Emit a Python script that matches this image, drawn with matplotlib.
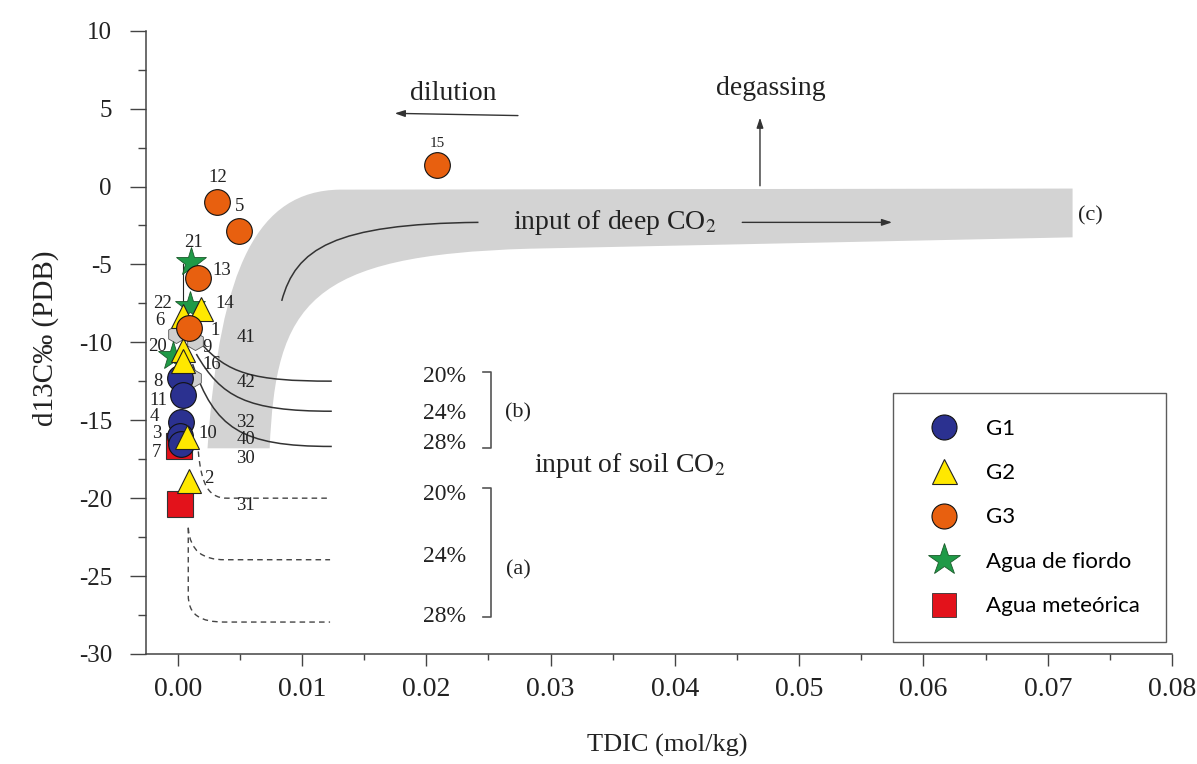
import numpy as np
import matplotlib
matplotlib.use("Agg")
import matplotlib.pyplot as plt
from matplotlib.path import Path
from matplotlib.patches import PathPatch
from matplotlib.lines import Line2D

SERIF = ['Liberation Serif', 'DejaVu Serif']
plt.rcParams['font.family'] = SERIF
plt.rcParams['mathtext.fontset'] = 'stix'

# ---------------- data ----------------
g1_x = [0.00019, 0.00045, 0.0003, 0.0002, 0.0003]
g1_y = [-12.3, -13.4, -15.1, -16.0, -16.5]

g2_x = [0.00187, 0.00045, 0.00045, 0.00045, 0.00072, 0.00093]
g2_y = [-7.85, -8.3, -10.5, -11.2, -16.1, -18.9]

g3_x = [0.0209, 0.00316, 0.00496, 0.00166, 0.00091]
g3_y = [1.35, -1.0, -2.83, -5.84, -9.1]

fiordo_x = [0.00105, 0.0010, -0.0004]
fiordo_y = [-4.87, -7.66, -10.9]

meteor_x = [0.0001, 0.00015]
meteor_y = [-16.65, -20.4]

other_x = [-0.0001, 0.0014, 0.00126]
other_y = [-9.49, -9.9, -12.3]

# sample number labels
lab_text = ["15", "12", "5", "21", "13", "22", "14", "6", "1", "41", "20", "9", "16",
            "8", "42", "11", "4", "32", "3", "10", "40", "7", "30", "2", "31"]
lab_x = [0.02086, 0.00319, 0.00496, 0.00126, 0.00354, -0.00124, 0.00380, -0.00142, 0.00300,
         0.00547, -0.00164, 0.00234, 0.00273, -0.00156, 0.00547, -0.00156, -0.00190, 0.00547,
         -0.00169, 0.00246, 0.00547, -0.00175, 0.00547, 0.00252, 0.00547]
lab_y = [2.77, 0.56, -1.27, -3.59, -5.41, -7.52, -7.52, -8.58, -9.21, -9.66, -10.24, -10.3,
         -11.42, -12.49, -12.6, -13.74, -14.75, -15.13, -15.82, -15.82, -16.25, -17.1, -17.43,
         -18.72, -20.48]

# soil-CO2 percentage labels
pct_text = ["20%", "24%", "28%", "20%", "24%", "28%"]
pct_y = [-12.2, -14.54, -16.48, -19.76, -23.75, -27.62]

xticks = [0.00, 0.01, 0.02, 0.03, 0.04, 0.05, 0.06, 0.07, 0.08]
yticks = [-30, -25, -20, -15, -10, -5, 0, 5, 10]

# colours
c_blue = '#2B3190'
c_yel = '#FFE800'
c_orn = '#E8600F'
c_grn = '#1F9A47'
c_red = '#E3121B'
c_band = '#D3D3D3'
c_line = '#333333'

# ---------------- figure ----------------
W, H = 1197, 764
fig = plt.figure(figsize=(W / 100, H / 100), dpi=100)
ax = fig.add_axes([146 / W, 1 - 654 / H, 1026 / W, 623.3 / H])
ax.set_xlim(-0.00255, 0.08)
ax.set_ylim(-30, 10)

# grey band (input of deep CO2)
band_v = [(0.0024, -16.8),
          (0.0034, -5.0), (0.0065, -0.3), (0.013, -0.2),
          (0.072, -0.13),
          (0.072, -3.26),
          (0.0283, -3.99),
          (0.0105, -4.4), (0.0079, -7.5), (0.0074, -16.8),
          (0.0024, -16.8)]
band_c = [Path.MOVETO, Path.CURVE4, Path.CURVE4, Path.CURVE4, Path.LINETO, Path.LINETO,
          Path.LINETO, Path.CURVE4, Path.CURVE4, Path.CURVE4, Path.CLOSEPOLY]
ax.add_patch(PathPatch(Path(band_v, band_c), facecolor=c_band, edgecolor='none', zorder=1))

# curve inside band
inner_v = [(0.00837, -7.34), (0.0095, -4.0), (0.0125, -2.4), (0.0242, -2.3)]
ax.add_patch(PathPatch(Path(inner_v, [Path.MOVETO, Path.CURVE4, Path.CURVE4, Path.CURVE4]),
                       facecolor='none', edgecolor=c_line, lw=1.1, zorder=2))

# soil CO2 mixing curves (b) solid
solid_curves = [
    [(0.0018, -10.0), (0.0040, -12.0), (0.0060, -12.49), (0.0124, -12.49)],
    [(0.0015, -10.75), (0.0035, -13.5), (0.0055, -14.42), (0.0124, -14.42)],
    [(0.0012, -11.4), (0.0030, -15.5), (0.0050, -16.68), (0.0124, -16.68)],
]
for cv in solid_curves:
    ax.add_patch(PathPatch(Path(cv, [Path.MOVETO, Path.CURVE4, Path.CURVE4, Path.CURVE4]),
                           facecolor='none', edgecolor=c_line, lw=1.1, zorder=2))

# (a) dashed curves
dashed_curves = [
    ([(0.00166, -17.0), (0.0019, -19.3), (0.0026, -20.0), (0.0040, -20.0), (0.01226, -20.0)],
     [Path.MOVETO, Path.CURVE4, Path.CURVE4, Path.CURVE4, Path.LINETO]),
    ([(0.00085, -21.9), (0.0010, -23.4), (0.0020, -23.95), (0.0038, -23.95), (0.01226, -23.95)],
     [Path.MOVETO, Path.CURVE4, Path.CURVE4, Path.CURVE4, Path.LINETO]),
    ([(0.00085, -21.9), (0.00085, -26.2), (0.00085, -27.5), (0.0018, -27.95), (0.0038, -27.95),
      (0.01226, -27.95)],
     [Path.MOVETO, Path.LINETO, Path.CURVE4, Path.CURVE4, Path.CURVE4, Path.LINETO]),
]
for v, c in dashed_curves:
    ax.add_patch(PathPatch(Path(v, c), facecolor='none', edgecolor='#444444', lw=1.0,
                           linestyle=(0, (4, 3)), zorder=2))

# thin connector
ax.plot([0.00045, 0.00045], [-4.96, -7.66], color='#222222', lw=0.8, zorder=3)

# markers
ms_c = 18.5
ax.plot(other_x, other_y, linestyle='none', marker='h', ms=13, mfc='#CFCFCF', mec='#555555',
        mew=0.6, zorder=3)
ax.plot(meteor_x, meteor_y, linestyle='none', marker='s', ms=19, mfc=c_red, mec='#333333',
        mew=0.8, zorder=4)
ax.plot(fiordo_x, fiordo_y, linestyle='none', marker='*', ms=22, mfc=c_grn, mec='#1a5a2a',
        mew=0.6, zorder=5)
ax.plot(g1_x, g1_y, linestyle='none', marker='o', ms=ms_c, mfc=c_blue, mec='#111111',
        mew=0.8, zorder=6)
ax.plot(g2_x, g2_y, linestyle='none', marker='^', ms=17, mfc=c_yel, mec='#222222',
        mew=0.8, zorder=7)
ax.plot(g3_x, g3_y, linestyle='none', marker='o', ms=ms_c, mfc=c_orn, mec='#111111',
        mew=0.8, zorder=8)

# sample labels
for t, x, y in zip(lab_text, lab_x, lab_y):
    ax.text(x, y, t, fontsize=11 if t == "15" else 13.5, ha='center', va='center',
            color='#222222', zorder=9, family=SERIF)

# brackets
bx, btick = 0.02518, 0.02454
for top, bot in [(-11.89, -16.79), (-19.36, -27.62)]:
    ax.plot([btick, bx, bx, btick], [top, top, bot, bot], color='#555555', lw=1.2, zorder=3)
for t, y in zip(pct_text, pct_y):
    ax.text(0.0215, y, t, fontsize=17, ha='center', va='center', color='#222222', family=SERIF)
ax.text(0.02738, -14.5, "(b)", fontsize=16, ha='center', va='center', color='#222222',
        family=SERIF)
ax.text(0.02738, -24.6, "(a)", fontsize=16, ha='center', va='center', color='#222222',
        family=SERIF)
ax.text(0.0364, -17.9, "input of soil CO$_2$", fontsize=20, ha='center', va='center',
        color='#222222', family=SERIF)

# band annotations
ax.text(0.0352, -2.3, "input of deep CO$_2$", fontsize=20, ha='center', va='center',
        color='#222222', zorder=9, family=SERIF)
ax.annotate("", xy=(0.0577, -2.3), xytext=(0.0452, -2.3),
            arrowprops=dict(arrowstyle='-|>,head_length=0.6,head_width=0.2', color=c_line, lw=1.0))
ax.text(0.0724, -1.9, "(c)", fontsize=16, ha='left', va='center', color='#222222', family=SERIF)

ax.text(0.0222, 6.0, "dilution", fontsize=20, ha='center', va='center', color='#222222',
        family=SERIF)
ax.annotate("", xy=(0.01724, 4.7), xytext=(0.0276, 4.55),
            arrowprops=dict(arrowstyle='-|>,head_length=0.6,head_width=0.2', color=c_line, lw=1.0))
ax.text(0.0477, 6.3, "degassing", fontsize=20, ha='center', va='center', color='#222222',
        family=SERIF)
ax.annotate("", xy=(0.04685, 4.6), xytext=(0.04685, -0.13),
            arrowprops=dict(arrowstyle='-|>,head_length=0.6,head_width=0.2', color=c_line, lw=1.0))

# axes styling
for s in ['top', 'right']:
    ax.spines[s].set_visible(False)
for s in ['left', 'bottom']:
    ax.spines[s].set_color('#444444')
    ax.spines[s].set_linewidth(1.1)
ax.set_xticks(xticks)
ax.set_xticklabels([f"{v:.2f}" for v in xticks])
ax.set_xticks(np.array(xticks[:-1]) + 0.005, minor=True)
ax.set_yticks(yticks)
ax.set_yticklabels([str(v) for v in yticks])
ax.set_yticks(np.array(yticks[:-1]) + 2.5, minor=True)
ax.tick_params(axis='x', which='major', direction='out', length=8.6, width=1.0, pad=8,
               labelsize=20, colors='#444444', labelcolor='#222222',
               labelfontfamily='Liberation Serif')
ax.tick_params(axis='x', which='minor', direction='out', length=4.3, width=1.0, colors='#444444')
ax.tick_params(axis='y', which='major', direction='out', length=11.5, width=1.0, pad=13,
               labelsize=18, colors='#444444', labelcolor='#222222',
               labelfontfamily='Liberation Serif')
ax.tick_params(axis='y', which='minor', direction='out', length=5.8, width=1.0, colors='#444444')

ax.set_xlabel("TDIC (mol/kg)", fontsize=19, color='#222222', family=SERIF)
ax.xaxis.label.set_va('center')
ax.xaxis.set_label_coords(0.508, -0.146)
ax.set_ylabel("d13C‰ (PDB)", fontsize=21, color='#222222', family=SERIF)
ax.yaxis.label.set_va('center')
ax.yaxis.set_label_coords(-0.0984, 0.507)

# legend
handles = [
    Line2D([], [], linestyle='none', marker='o', ms=18, mfc=c_blue, mec='#111111', mew=0.8),
    Line2D([], [], linestyle='none', marker='^', ms=18, mfc=c_yel, mec='#222222', mew=0.8),
    Line2D([], [], linestyle='none', marker='o', ms=18, mfc=c_orn, mec='#111111', mew=0.8),
    Line2D([], [], linestyle='none', marker='*', ms=24, mfc=c_grn, mec='#1a5a2a', mew=0.6),
    Line2D([], [], linestyle='none', marker='s', ms=17, mfc=c_red, mec='#333333', mew=0.6),
]
labels = ["G1", "G2", "G3", "Agua de fiordo", "Agua meteórica"]
leg = ax.legend(handles, labels, loc='upper left', bbox_to_anchor=(0.728, 0.4187),
                borderaxespad=0, frameon=True, fancybox=False, edgecolor='#333333',
                prop={'family': ['Lato', 'DejaVu Sans'], 'size': 16}, handlelength=2.3,
                handletextpad=0.75, labelspacing=1.1, borderpad=1.15)
leg.get_frame().set_linewidth(1.0)

for lbl in ax.get_xticklabels() + ax.get_yticklabels():
    lbl.set_fontfamily(SERIF)

fig.savefig("out.png", dpi=100)
